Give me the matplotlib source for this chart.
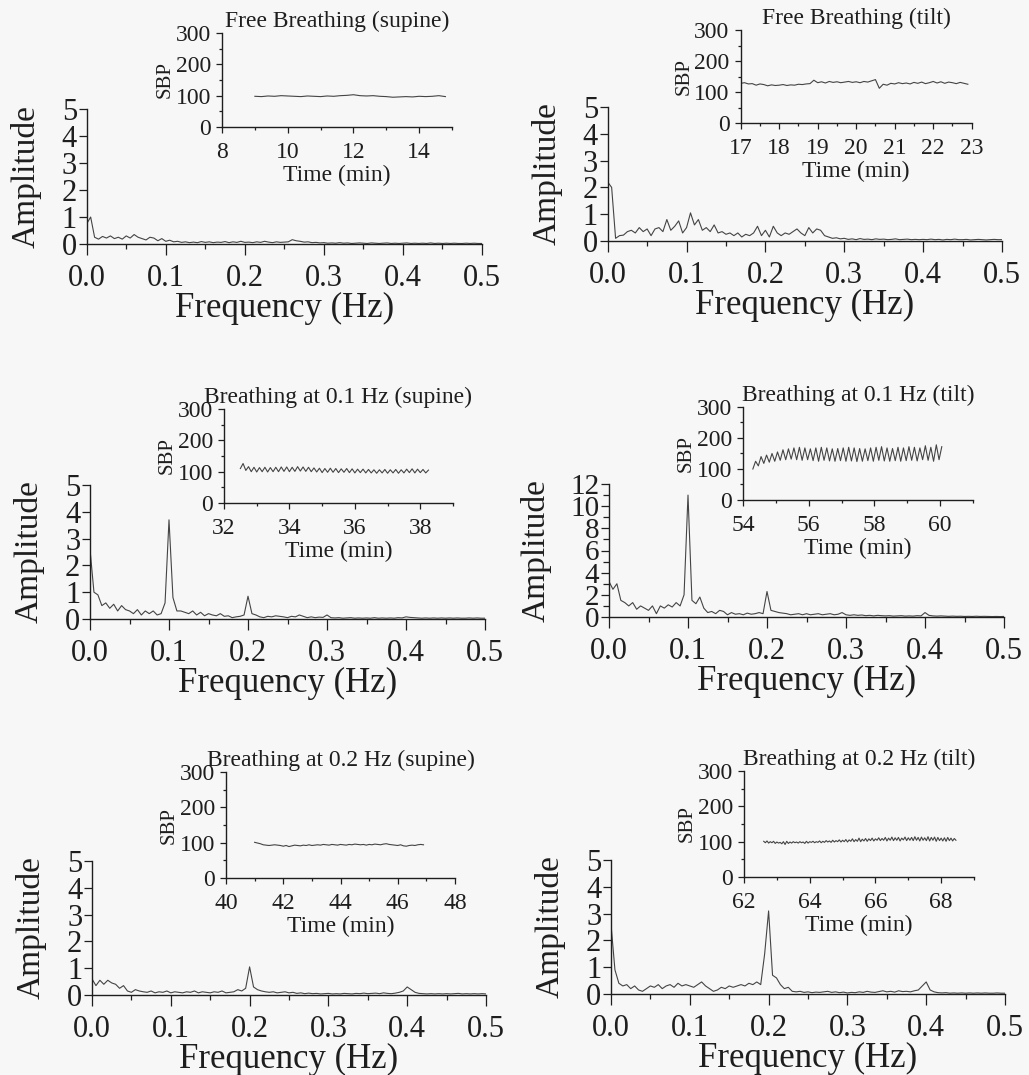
import numpy as np
import matplotlib
matplotlib.use('Agg')
import matplotlib.pyplot as plt
from matplotlib.ticker import MultipleLocator

plt.rcParams['font.family'] = ['Liberation Serif', 'DejaVu Serif']

# spectra, one value every 0.005 Hz starting at 0 Hz (rows of 0.05 Hz)
amp_free_supine = [
    0.75, 1.0, 0.25, 0.18, 0.28, 0.22, 0.3, 0.2, 0.25, 0.18,
    0.3, 0.22, 0.35, 0.25, 0.2, 0.15, 0.25, 0.22, 0.12, 0.2,
    0.1, 0.14, 0.08, 0.1, 0.06, 0.08, 0.05, 0.07, 0.05, 0.09,
    0.06, 0.08, 0.05, 0.07, 0.06, 0.09, 0.05, 0.08, 0.06, 0.1,
    0.06, 0.07, 0.05, 0.08, 0.06, 0.1, 0.07, 0.05, 0.08, 0.06,
    0.07, 0.08, 0.16, 0.12, 0.1, 0.07, 0.08, 0.05, 0.06, 0.04,
    0.05, 0.03, 0.04, 0.03, 0.05, 0.03, 0.04, 0.02, 0.03, 0.04,
    0.03, 0.02, 0.04, 0.03, 0.02, 0.03, 0.04, 0.02, 0.03, 0.02,
    0.03, 0.04, 0.02, 0.03, 0.02, 0.03, 0.02, 0.04, 0.02, 0.03,
    0.02, 0.03, 0.02, 0.03, 0.02, 0.02, 0.03, 0.02, 0.03, 0.02,
    0.02]
amp_free_tilt = [
    2.2, 2.0, 0.1, 0.2, 0.22, 0.35, 0.4, 0.3, 0.5, 0.35,
    0.45, 0.2, 0.45, 0.5, 0.35, 0.8, 0.4, 0.55, 0.75, 0.3,
    0.5, 1.05, 0.6, 0.8, 0.4, 0.5, 0.35, 0.6, 0.3, 0.35,
    0.25, 0.3, 0.2, 0.3, 0.15, 0.25, 0.2, 0.3, 0.55, 0.2,
    0.4, 0.15, 0.55, 0.3, 0.2, 0.3, 0.25, 0.35, 0.45, 0.3,
    0.2, 0.5, 0.3, 0.45, 0.4, 0.2, 0.15, 0.1, 0.12, 0.08,
    0.1, 0.06, 0.08, 0.05, 0.09, 0.06, 0.07, 0.05, 0.08, 0.06,
    0.07, 0.05, 0.06, 0.08, 0.05, 0.06, 0.07, 0.05, 0.06, 0.05,
    0.06, 0.05, 0.07, 0.05, 0.06, 0.04, 0.06, 0.05, 0.07, 0.05,
    0.05, 0.06, 0.04, 0.05, 0.06, 0.05, 0.04, 0.05, 0.06, 0.05,
    0.05]
amp_01_supine = [
    2.6, 1.0, 0.9, 0.5, 0.6, 0.4, 0.55, 0.3, 0.5, 0.35,
    0.3, 0.2, 0.35, 0.15, 0.3, 0.2, 0.3, 0.15, 0.2, 0.6,
    3.7, 0.8, 0.3, 0.3, 0.25, 0.2, 0.3, 0.15, 0.25, 0.12,
    0.2, 0.15, 0.12, 0.2, 0.1, 0.12, 0.05, 0.08, 0.1, 0.15,
    0.85, 0.2, 0.15, 0.08, 0.05, 0.1, 0.08, 0.12, 0.1, 0.08,
    0.05, 0.1, 0.08, 0.15, 0.1, 0.05, 0.08, 0.05, 0.07, 0.06,
    0.15, 0.05, 0.04, 0.05, 0.03, 0.04, 0.05, 0.03, 0.04, 0.03,
    0.04, 0.03, 0.05, 0.03, 0.04, 0.03, 0.04, 0.03, 0.05, 0.04,
    0.08, 0.06, 0.05, 0.04, 0.03, 0.04, 0.03, 0.04, 0.03, 0.04,
    0.03, 0.04, 0.03, 0.04, 0.03, 0.03, 0.04, 0.03, 0.04, 0.03,
    0.03]
amp_01_tilt = [
    3.2, 2.5, 3.0, 1.5, 1.3, 1.0, 1.3, 0.7, 1.0, 0.8,
    0.6, 1.0, 0.3, 1.0, 0.8, 1.1, 0.9, 1.3, 1.0, 2.0,
    11.0, 1.5, 1.2, 1.8, 0.8, 0.4, 0.5, 0.3, 0.6, 0.5,
    0.2, 0.4, 0.25, 0.3, 0.2, 0.35, 0.25, 0.3, 0.4, 0.3,
    2.3, 0.6, 0.5, 0.4, 0.35, 0.3, 0.2, 0.25, 0.3, 0.2,
    0.3, 0.2, 0.25, 0.3, 0.2, 0.25, 0.3, 0.2, 0.25, 0.4,
    0.2, 0.15, 0.2, 0.15, 0.18, 0.12, 0.15, 0.1, 0.15, 0.12,
    0.1, 0.12, 0.08, 0.1, 0.12, 0.08, 0.1, 0.08, 0.12, 0.1,
    0.4, 0.15, 0.1, 0.08, 0.1, 0.08, 0.06, 0.08, 0.06, 0.07,
    0.05, 0.06, 0.05, 0.07, 0.05, 0.06, 0.05, 0.04, 0.05, 0.04,
    0.05]
amp_02_supine = [
    0.6, 0.35, 0.55, 0.4, 0.55, 0.45, 0.4, 0.25, 0.35, 0.15,
    0.1, 0.2, 0.15, 0.12, 0.1, 0.15, 0.08, 0.12, 0.1, 0.15,
    0.08, 0.12, 0.1, 0.08, 0.12, 0.1, 0.15, 0.08, 0.12, 0.1,
    0.08, 0.12, 0.1, 0.15, 0.08, 0.1, 0.12, 0.2, 0.15, 0.25,
    1.05, 0.3, 0.2, 0.15, 0.12, 0.1, 0.12, 0.08, 0.1, 0.12,
    0.08, 0.1, 0.06, 0.08, 0.05, 0.07, 0.05, 0.06, 0.04, 0.05,
    0.06, 0.04, 0.05, 0.04, 0.06, 0.05, 0.04, 0.06, 0.05, 0.07,
    0.05, 0.06, 0.07, 0.05, 0.08, 0.06, 0.05, 0.07, 0.1, 0.15,
    0.3, 0.2, 0.1, 0.06, 0.05, 0.04, 0.05, 0.04, 0.05, 0.04,
    0.05, 0.04, 0.05, 0.06, 0.04, 0.05, 0.04, 0.05, 0.04, 0.05,
    0.04]
amp_02_tilt = [
    2.6, 0.9, 0.4, 0.3, 0.35, 0.2, 0.3, 0.15, 0.1, 0.2,
    0.3, 0.25, 0.35, 0.2, 0.3, 0.35, 0.25, 0.4, 0.3, 0.35,
    0.3, 0.25, 0.35, 0.45, 0.3, 0.2, 0.1, 0.15, 0.25, 0.2,
    0.3, 0.25, 0.3, 0.35, 0.3, 0.4, 0.35, 0.45, 0.35, 1.5,
    3.1, 0.7, 0.6, 0.35, 0.2, 0.25, 0.1, 0.08, 0.1, 0.06,
    0.08, 0.05, 0.07, 0.06, 0.08, 0.1, 0.06, 0.08, 0.05, 0.07,
    0.04, 0.06, 0.05, 0.08, 0.06, 0.1, 0.07, 0.06, 0.09, 0.12,
    0.08, 0.1, 0.07, 0.12, 0.09, 0.1, 0.08, 0.12, 0.15, 0.3,
    0.45, 0.15, 0.08, 0.05, 0.04, 0.05, 0.03, 0.04, 0.03, 0.04,
    0.03, 0.04, 0.03, 0.04, 0.03, 0.04, 0.03, 0.03, 0.04, 0.03,
    0.03]

# SBP traces (mmHg)
t_free_supine_start, t_free_supine_step = 9.0, 0.2
sbp_free_supine = [98, 97, 99, 98, 100, 99, 98, 97, 99, 98,
                   97, 99, 98, 100, 101, 103, 100, 99, 100, 98,
                   97, 95, 96, 97, 96, 98, 97, 98, 100, 97]
t_free_tilt_start, t_free_tilt_step = 17.0, 0.1
sbp_free_tilt = [128, 130, 126, 127, 122, 126, 124, 120, 123, 121,
                 122, 124, 121, 123, 122, 125, 124, 126, 127, 138,
                 130, 133, 129, 134, 131, 133, 130, 132, 134, 131,
                 133, 130, 134, 132, 136, 140, 112, 125, 122, 128,
                 126, 130, 127, 129, 126, 131, 128, 132, 127, 130,
                 134, 129, 133, 128, 132, 130, 127, 131, 128, 125]
t_01_supine_start, t_01_supine_step = 32.5, 1 / 12
sbp_01_supine = [110, 126, 104, 116, 100, 114, 99, 113, 100, 114,
                 99, 113, 100, 114, 100, 115, 101, 115, 100, 114,
                 101, 116, 102, 115, 101, 114, 100, 112, 99, 111,
                 97, 110, 98, 111, 98, 110, 97, 109, 98, 110,
                 97, 109, 96, 108, 97, 108, 96, 107, 96, 106,
                 95, 106, 96, 107, 95, 106, 96, 107, 95, 106,
                 96, 108, 97, 109, 96, 108, 97, 107, 96, 105]
t_01_tilt_start, t_01_tilt_step = 54.3, 1 / 12
sbp_01_tilt = [100, 125, 110, 140, 118, 145, 122, 150, 125, 155,
               128, 162, 130, 165, 132, 168, 130, 170, 128, 168,
               130, 165, 127, 168, 125, 170, 128, 168, 126, 165,
               125, 166, 127, 168, 125, 170, 126, 168, 124, 166,
               125, 165, 127, 168, 125, 170, 128, 172, 126, 168,
               125, 166, 127, 170, 125, 168, 127, 172, 128, 170,
               126, 168, 130, 175, 128, 170, 125, 178, 130, 172]
t_02_supine_start, t_02_supine_step = 41.0, 0.1
sbp_02_supine = [101, 99, 97, 94, 93, 92, 93, 94, 93, 92,
                 90, 92, 89, 91, 93, 92, 91, 93, 92, 94,
                 92, 93, 94, 93, 95, 94, 93, 95, 94, 93,
                 95, 94, 93, 95, 94, 96, 95, 94, 95, 93,
                 95, 94, 96, 95, 94, 96, 97, 95, 94, 93,
                 92, 94, 91, 90, 92, 93, 92, 94, 95, 94]
t_02_tilt_start, t_02_tilt_step = 62.6, 0.05
sbp_02_tilt = [101, 97, 102, 96, 100, 97, 101, 95, 99, 96,
               98, 94, 100, 92, 101, 95, 99, 96, 100, 97,
               99, 96, 100, 97, 99, 95, 101, 96, 100, 98,
               101, 97, 100, 98, 102, 97, 101, 98, 103, 99,
               102, 98, 104, 99, 103, 100, 105, 99, 104, 100,
               106, 99, 105, 101, 108, 100, 106, 101, 110, 100,
               107, 102, 109, 101, 108, 103, 110, 102, 108, 104,
               111, 103, 109, 104, 112, 102, 110, 104, 113, 103,
               111, 104, 112, 102, 110, 105, 113, 103, 111, 104,
               112, 103, 114, 104, 112, 102, 113, 104, 111, 103,
               114, 102, 112, 104, 113, 101, 112, 103, 110, 102,
               111, 101, 112, 103, 110, 102, 109, 104]

titles = ['Free Breathing (supine)', 'Free Breathing (tilt)',
          'Breathing at 0.1 Hz (supine)', 'Breathing at 0.1 Hz (tilt)',
          'Breathing at 0.2 Hz (supine)', 'Breathing at 0.2 Hz (tilt)']
spectra = [amp_free_supine, amp_free_tilt, amp_01_supine,
           amp_01_tilt, amp_02_supine, amp_02_tilt]
traces = [(t_free_supine_start, t_free_supine_step, sbp_free_supine),
          (t_free_tilt_start, t_free_tilt_step, sbp_free_tilt),
          (t_01_supine_start, t_01_supine_step, sbp_01_supine),
          (t_01_tilt_start, t_01_tilt_step, sbp_01_tilt),
          (t_02_supine_start, t_02_supine_step, sbp_02_supine),
          (t_02_tilt_start, t_02_tilt_step, sbp_02_tilt)]
time_lims = [(8, 15), (17, 23), (32, 39), (54, 61), (40, 48), (62, 69)]
time_major = [2, 1, 2, 2, 2, 2]
amp_max = [5, 5, 5, 12, 5, 5]

# pixel boxes: left, right, bottom, top
main_box = [(86.7, 482, 244, 109), (607.7, 1002, 241, 107),
            (90, 485, 619, 485), (609, 1004, 617, 484),
            (92, 486, 995, 861), (611, 1005, 994, 860)]
inset_box = [(222, 452, 127, 33), (740.7, 971.7, 123, 30),
             (224, 453, 503, 409), (743, 973, 500, 407),
             (226, 455, 878, 772), (744, 974, 877, 771)]

W, H = 1029, 1075
ink = '#1e1e1e'
line = '#444444'
fig = plt.figure(figsize=(W / 100, H / 100), dpi=100, facecolor='#f7f7f7')


def add_box(box):
    x0, x1, yb, yt = box
    return fig.add_axes([x0 / W, 1 - yb / H, (x1 - x0) / W, (yb - yt) / H])


def style(ax):
    for s in ['top', 'right']:
        ax.spines[s].set_visible(False)
    for s in ['left', 'bottom']:
        ax.spines[s].set_linewidth(1.0)
        ax.spines[s].set_color(ink)
    ax.patch.set_alpha(0)


for i in range(6):
    ax = add_box(main_box[i])
    style(ax)
    amp = np.array(spectra[i])
    freq = 0.005 * np.arange(len(amp))
    ax.plot(freq, amp, color=line, lw=0.8)
    ax.set_xlim(0, 0.5)
    ax.set_ylim(0, amp_max[i])
    ax.xaxis.set_major_locator(MultipleLocator(0.1))
    ax.xaxis.set_minor_locator(MultipleLocator(0.05))
    ax.xaxis.set_major_formatter(plt.FormatStrFormatter('%.1f'))
    if amp_max[i] > 5:
        ax.yaxis.set_major_locator(MultipleLocator(2))
        ax.yaxis.set_minor_locator(MultipleLocator(1))
    else:
        ax.yaxis.set_major_locator(MultipleLocator(1))
    ax.tick_params(axis='x', which='major', length=8, width=0.9, pad=6.5,
                   labelsize=22, colors=ink)
    ax.tick_params(axis='x', which='minor', length=3.6, width=0.9, colors=ink)
    ax.tick_params(axis='y', which='major', length=6, width=0.9, pad=1,
                   labelsize=21 if amp_max[i] > 5 else 22, colors=ink)
    ax.tick_params(axis='y', which='minor', length=4, width=0.9, colors=ink)
    h = main_box[i][2] - main_box[i][3]
    w = main_box[i][1] - main_box[i][0]
    ax.set_xlabel('Frequency (Hz)', fontsize=25, color=ink)
    ax.xaxis.set_label_coords(0.5, -48 / h)
    ax.set_ylabel('Amplitude', fontsize=24, color=ink)
    ax.yaxis.set_label_coords((-57 if amp_max[i] > 5 else -45) / w, 0.5)

    ins = add_box(inset_box[i])
    style(ins)
    t0, dt, sbp = traces[i]
    t = t0 + dt * np.arange(len(sbp))
    ins.plot(t, sbp, color=line, lw=0.8)
    ins.set_xlim(*time_lims[i])
    ins.set_ylim(0, 300)
    ins.xaxis.set_major_locator(MultipleLocator(time_major[i]))
    ins.xaxis.set_minor_locator(MultipleLocator(time_major[i] / 2))
    ins.yaxis.set_major_locator(MultipleLocator(100))
    ins.yaxis.set_minor_locator(MultipleLocator(50))
    ins.tick_params(which='major', length=4, width=0.9, labelsize=17,
                    colors=ink)
    ins.tick_params(which='minor', length=2.5, width=0.9, colors=ink)
    ins.tick_params(axis='x', pad=7)
    ins.tick_params(axis='y', pad=4)
    ih = inset_box[i][2] - inset_box[i][3]
    iw = inset_box[i][1] - inset_box[i][0]
    ins.set_xlabel('Time (min)', fontsize=17, color=ink)
    ins.xaxis.set_label_coords(0.5, -38 / ih)
    ins.set_ylabel('SBP', fontsize=15, color=ink)
    ins.yaxis.set_label_coords(-47 / iw, 0.5)
    ins.set_title(titles[i], fontsize=17, color=ink, pad=4.5)

fig.savefig('out.png', dpi=100, facecolor=fig.get_facecolor())
